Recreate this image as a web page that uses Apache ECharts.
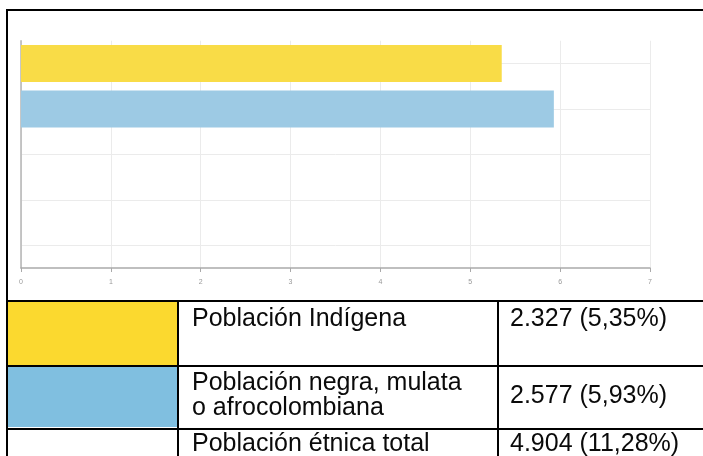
<!DOCTYPE html>
<html><head><meta charset="utf-8">
<script src="https://cdn.jsdelivr.net/npm/echarts@6/dist/echarts.min.js"></script>
<style>html,body{margin:0;padding:0;background:#fff}#c{width:703px;height:456px}</style>
</head><body><div id="c"></div>
<script>
// ---- data ----
const categories = ['Población Indígena', 'Población negra, mulata o afrocolombiana', 'c3', 'c4', 'c5'];
const values = [5.35, 5.93];
const barColors = ['#F9DC47', '#9DCAE4'];
const xTickLabels = ['0', '1', '2', '3', '4', '5', '6', '7'];
const tableLabels = ['Población Indígena', 'Población negra, mulata\no afrocolombiana', 'Población étnica total'];
const tableValues = ['2.327 (5,35%)', '2.577 (5,93%)', '4.904 (11,28%)'];
const swatchColors = ['#FBD92F', '#80BFE0', null];

// ---- layout ----
const FONT = '25px "Liberation Sans", Arial, sans-serif';
const rowCenters = [319, 396, 444];
const swatchBoxes = [[8, 302, 169, 63], [8, 367, 169, 60]];

const chart = echarts.init(document.getElementById('c'), null, {renderer: 'canvas'});

const graphics = [];
function bar(x, y, w, h, fill) {
  graphics.push({type: 'rect', shape: {x: x, y: y, width: w, height: h}, style: {fill: fill}, silent: true, z: 10});
}
// swatches
swatchColors.forEach((c, i) => { if (c) { const b = swatchBoxes[i]; bar(b[0], b[1], b[2], b[3], c); } });
// outer border
bar(6, 9, 697, 2, '#000');
bar(6, 9, 2, 447, '#000');
// table rules
bar(6, 300, 697, 2, '#000');
bar(6, 365, 697, 2, '#000');
bar(6, 428, 697, 2, '#000');
bar(177, 300, 2, 156, '#000');
bar(497, 300, 2, 156, '#000');
// table texts
tableLabels.forEach((t, i) => {
  graphics.push({type: 'text', x: 192, y: rowCenters[i], silent: true, z: 11,
    style: {text: t, font: FONT, fill: '#0a0a0a', align: 'left', verticalAlign: 'middle', lineHeight: 25}});
});
tableValues.forEach((t, i) => {
  graphics.push({type: 'text', x: 510, y: rowCenters[i], silent: true, z: 11,
    style: {text: t, font: FONT, fill: '#0a0a0a', align: 'left', verticalAlign: 'middle'}});
});

const option = {
  animation: false,
  backgroundColor: '#fff',
  grid: [
    {left: 21, right: 53, top: 40.75, bottom: 188, containLabel: false},
    {left: 21, right: 53, top: 63.5, bottom: 210.75, containLabel: false}
  ],
  xAxis: [
    {type: 'value', gridIndex: 0, min: 0, max: 7, interval: 1,
      axisLine: {show: true, lineStyle: {color: '#aaa', width: 1.5}},
      axisTick: {show: true, length: 4, lineStyle: {color: '#aaa'}},
      axisLabel: {show: true, fontSize: 7, color: '#999', margin: 11, formatter: v => xTickLabels[v]},
      splitLine: {show: true, lineStyle: {color: '#ebebeb', width: 1}}},
    {type: 'value', gridIndex: 1, min: 0, max: 7, show: false}
  ],
  yAxis: [
    {type: 'category', gridIndex: 0, data: categories, inverse: true,
      axisLine: {show: true, lineStyle: {color: '#b5b5b5', width: 1.5}},
      axisTick: {show: false}, axisLabel: {show: false}, splitLine: {show: false}},
    {type: 'value', gridIndex: 1, min: 0, max: 4, interval: 1,
      axisLine: {show: false}, axisTick: {show: false}, axisLabel: {show: false},
      splitLine: {show: true, lineStyle: {color: '#ebebeb', width: 1}}}
  ],
  series: [{
    type: 'bar', xAxisIndex: 0, yAxisIndex: 0, barWidth: 37,
    data: values.map((v, i) => ({value: v, itemStyle: {color: barColors[i]}}))
  }],
  graphic: graphics
};
chart.setOption(option);
</script></body></html>
